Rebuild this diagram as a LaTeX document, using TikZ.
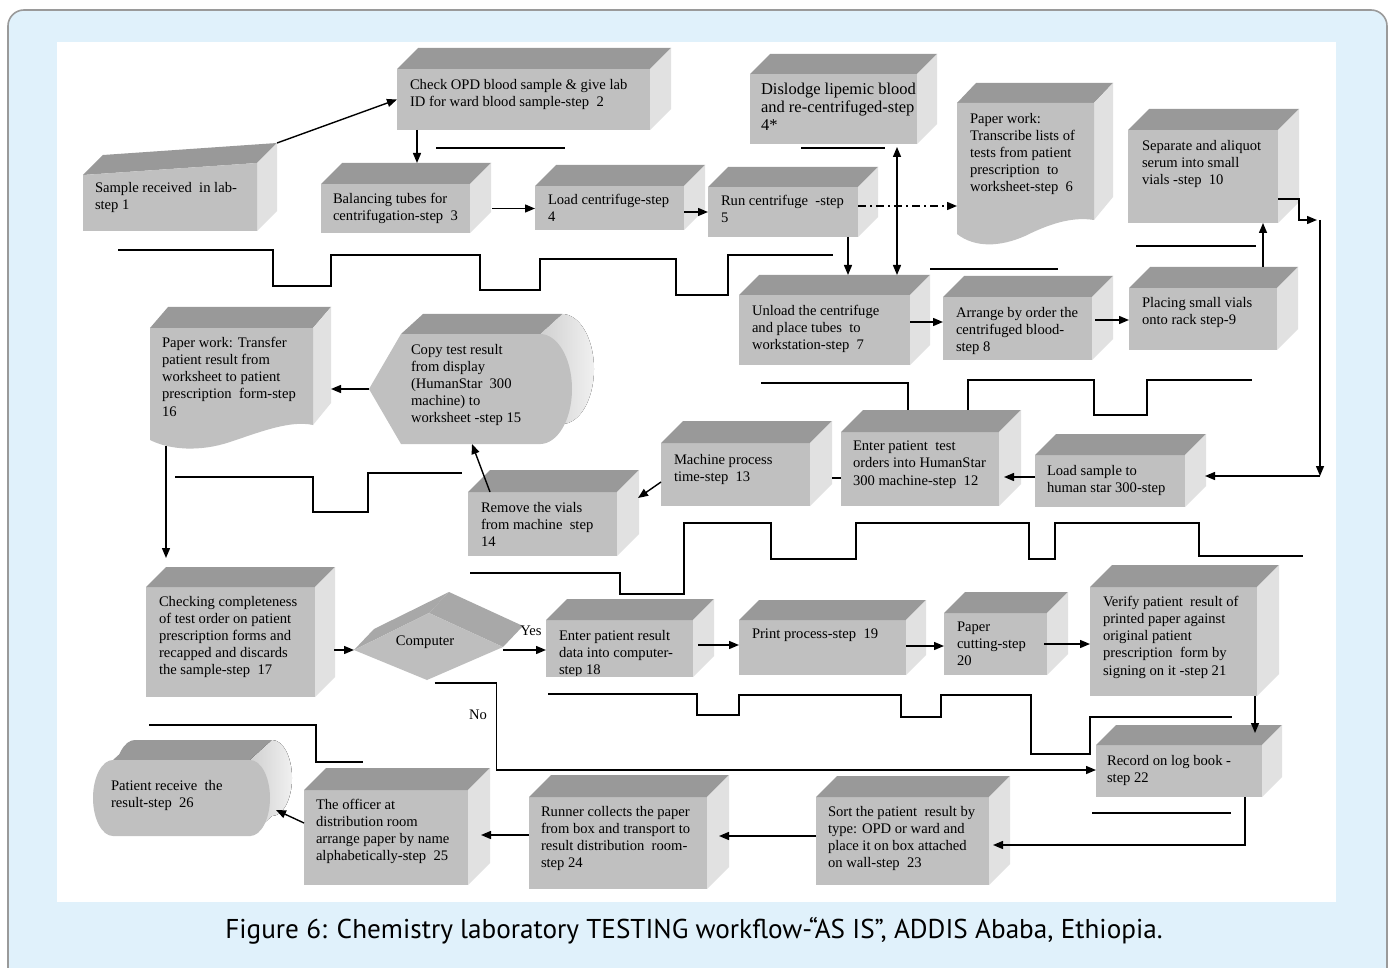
\documentclass[tikz,border=0pt]{standalone}
\usepackage{fontspec}
\setmainfont{Liberation Serif}
\newfontfamily\capfont{PT Sans}
\usetikzlibrary{arrows.meta,calc,fit}
\definecolor{frontc}{HTML}{C0C0C0}
\definecolor{topc}{HTML}{999999}
\definecolor{sidec}{HTML}{E1E1E1}
\definecolor{sidedk}{HTML}{D0D0D0}
\definecolor{sidelt}{HTML}{F0F0F0}
\definecolor{diatop}{HTML}{A8A8A8}
\definecolor{diafront}{HTML}{BEBEBE}
\definecolor{bgblue}{HTML}{E0F1FB}
\definecolor{framec}{HTML}{9A9A9A}
\tikzset{
 faceF/.style={fill=frontc, draw=none, inner sep=0pt, outer sep=0pt},
 anch/.style={inner sep=0pt, outer sep=0pt},
 txt/.style={anchor=north west, inner sep=0pt, outer sep=0pt, align=left, font=\fontsize{7.3pt}{8.6pt}\selectfont},
 bigtxt/.style={anchor=north west, inner sep=0pt, outer sep=0pt, align=left, font=\fontsize{8.25pt}{9pt}\selectfont},
 lbl/.style={inner sep=0pt, font=\fontsize{7.3pt}{8.6pt}\selectfont},
 arr/.style={line width=0.7pt, -{Triangle[length=5pt,width=4pt]}},
 darr/.style={line width=0.7pt, {Triangle[length=5pt,width=4pt]}-{Triangle[length=5pt,width=4pt]}},
 wline/.style={line width=0.7pt},
}
\newcommand\cubebox[6]{%
 \node[faceF, fit={(#2,#3)(#4,#5)}] (#1) {};
 \fill[topc] (#1.north west) -- ++(#6,-#6) -- ($(#1.north east)+(#6,-#6)$) -- (#1.north east) -- cycle;
 \fill[sidec] (#1.north east) -- ++(#6,-#6) -- ($(#1.south east)+(#6,-#6)$) -- (#1.south east) -- cycle;
 \coordinate (#1-t) at ($(#1.north)+(#6,-#6)$);
}
\begin{document}
\begin{tikzpicture}[x=0.5pt,y=-0.5pt]
\clip (0,0) rectangle (1392,968);
\fill[white] (0,0) rectangle (1392,968);
\draw[framec, fill=bgblue, line width=0.8pt, rounded corners=8pt] (8,10) rectangle (1387,1000);
\fill[white] (57,42) rectangle (1336,902);

% ---- timeline lines ----
\draw[wline] (118,250) -- (273,250) -- (273,286) -- (331,286) -- (331,255) -- (480,255) -- (480,290) -- (540,290) -- (540,259) -- (676,259) -- (676,295) -- (728,295) -- (728,255) -- (833,255);
\draw[wline] (436,148) -- (565,148);
\draw[wline] (801,148) -- (885,148);
\draw[wline] (930,269) -- (1058,269);
\draw[wline] (1136,246) -- (1256,246);
\draw[wline] (761,383) -- (908,383) -- (908,417) -- (968,417) -- (968,380) -- (1094,380) -- (1094,415) -- (1147,415) -- (1147,380) -- (1252,380);
\draw[wline] (175,477) -- (313,477) -- (313,512) -- (368,512) -- (368,473) -- (462,473);
\draw[wline] (470,573) -- (620,573) -- (620,594) -- (684,594) -- (684,523) -- (771,523) -- (771,559) -- (856,559) -- (856,523) -- (1029,523) -- (1029,559) -- (1055,559) -- (1055,523) -- (1199,523) -- (1199,556) -- (1303,556);
\draw[wline] (548,694) -- (697,694) -- (697,715) -- (739,715) -- (739,695) -- (901,695) -- (901,717) -- (941,717) -- (941,695) -- (1031,695) -- (1031,754) -- (1090,754) -- (1090,717) -- (1232,717);
\draw[wline] (149,725) -- (316,725) -- (316,762) -- (363,762);
\draw[wline] (1092,813) -- (1231,813);

% ---- step 1 (manual input) ----
\node[anch, fit={(83,163)(257,231)}] (b1) {};
\fill[topc] (83,175) -- (103,155) -- (277,143) -- (257,163) -- cycle;
\fill[sidec] (257,163) -- (277,143) -- (277,211) -- (257,231) -- cycle;
\fill[frontc] (83,175) -- (257,163) -- (257,231) -- (83,231) -- cycle;
\coordinate (b1tr) at ($(b1.north east)+(20,-20)$);
\node[txt] (t1) at (95,182) {Sample received~ in lab-\\step 1};

% ---- cubes ----
\cubebox{b2}{397}{69}{650}{130}{21}
\node[txt] (t2) at (410,79) {Check OPD blood sample \& give lab\\ID for ward blood sample-step~ 2};
\cubebox{b3}{321}{184}{470}{233}{21}
\node[txt] (t3) at (333,193) {Balancing tubes for\\centrifugation-step~ 3};
\cubebox{b4}{535}{186}{684}{230}{21}
\node[txt] (t4) at (548,194) {Load centrifuge-step\\4};
\cubebox{b5}{708}{187}{858}{237}{20}
\node[txt] (t5) at (721,195) {Run centrifuge~ -step\\5};
\cubebox{b4s}{750}{74}{917}{144}{20}
\node[bigtxt] (t4s) at (761,83) {Dislodge lipemic blood\\and re-centrifuged-step\\4*};

% ---- step 6 document ----
\node[anch, fit={(957,103)(1094,233)}] (b6) {};
\fill[topc] (957,103) -- (976,83) -- (1113,83) -- (1094,103) -- cycle;
\fill[sidec] (1094,103) -- (1113,83) -- (1113,197) -- (1094,220) -- cycle;
\fill[frontc] (957,103) -- (1094,103) -- (1094,220) .. controls (1070,216) and (1045,226) .. (1025,236) .. controls (1000,247) and (975,248) .. (957,234) -- cycle;
\node[txt] (t6) at (970,113) {Paper work:\\Transcribe lists of\\tests from patient\\prescription~ to\\worksheet-step~ 6};

\cubebox{b10}{1128}{130}{1278}{223}{21}
\node[txt] (t10) at (1142,140) {Separate and aliquot\\serum into small\\vials -step~ 10};
\cubebox{b7}{739}{295}{910}{365}{20}
\node[txt] (t7) at (752,305) {Unload the centrifuge\\and place tubes~ to\\workstation-step~ 7};
\cubebox{b8}{943}{297}{1092}{360}{21}
\node[txt] (t8) at (956,307) {Arrange by order the\\centrifuged blood-\\step 8};
\cubebox{b9}{1129}{288}{1277}{350}{21}
\node[txt] (t9) at (1142,297) {Placing small vials\\onto rack step-9};

% ---- step 16 document ----
\node[anch, fit={(150,328)(313,446)}] (b16) {};
\fill[topc] (150,328) -- (168,307) -- (331,307) -- (313,328) -- cycle;
\fill[sidec] (313,328) -- (331,307) -- (331,403) -- (313,425) -- cycle;
\fill[frontc] (150,328) -- (313,328) -- (313,425) .. controls (290,420) and (260,432) .. (230,442) .. controls (200,452) and (170,450) .. (150,440) -- cycle;
\node[txt] (t16) at (162,337) {Paper work: Transfer\\patient result from\\worksheet to patient\\prescription~ form-step\\16};

% ---- step 15 display ----
\node[anch, fit={(369,334)(572,444)}] (b15) {};
\fill[left color=sidedk, right color=sidelt] (540,334) -- (562,314) .. controls (579.7,314) and (594,338.6) .. (594,369) .. controls (594,399.4) and (579.7,424) .. (562,424) -- (540,444) -- cycle;
\fill[topc] (401,334) -- (423,314) -- (562,314) -- (540,334) -- cycle;
\fill[frontc] (369,389) -- (401,334) -- (540,334) .. controls (557.7,334) and (572,358.6) .. (572,389) .. controls (572,419.4) and (557.7,444) .. (540,444) -- (401,444) -- cycle;
\node[txt] (t15) at (411,344) {Copy test result\\from display\\(HumanStar~ 300\\machine) to\\worksheet -step 15};

\cubebox{b13}{661}{443}{810}{506}{22}
\node[txt] (t13) at (674,454) {Machine process\\time-step~ 13};
\cubebox{b12}{841}{432}{999}{506}{22}
\node[txt] (t12) at (853,441) {Enter patient~ test\\orders into HumanStar\\300 machine-step~ 12};
\cubebox{b11}{1035}{455}{1185}{507}{21}
\node[txt] (t11) at (1047,465) {Load sample to\\human star 300-step};
\cubebox{b14}{468}{492}{617}{556}{22}
\node[txt] (t14) at (481,502) {Remove the vials\\from machine~ step\\14};
\cubebox{b17}{146}{587}{315}{697}{20}
\node[txt] (t17) at (159,596) {Checking completeness\\of test order on patient\\prescription forms and\\recapped and discards\\the sample-step~ 17};

% ---- decision ----
\node[anch, fit={(354,620)(503,680)}] (comp) {};
\fill[diatop] (354,650) -- (374,629) -- (449,592) -- (429,613) -- cycle;
\fill[diatop] (429,613) -- (449,592) -- (523,626) -- (503,647) -- cycle;
\fill[diafront] (354,650) -- (429,613) -- (503,647) -- (427,680) -- cycle;
\node[lbl] (tcomp) at (425,642) {Computer};
\node[lbl] (yes) at (531,631) {Yes};
\node[lbl] (no) at (478,715) {No};

\cubebox{b18}{546}{620}{693}{677}{21}
\begin{scope}
\clip (546,600) rectangle (693,675);
\node[txt] (t18) at (559,630) {Enter patient result\\data into computer-\\step 18};
\end{scope}
\cubebox{b19}{739}{620}{906}{675}{20}
\node[txt] (t19) at (752,629) {Print process-step~ 19};
\cubebox{b20}{944}{613}{1047}{675}{21}
\node[txt] (t20) at (957,622) {Paper\\cutting-step\\20};
\cubebox{b21}{1090}{587}{1257}{696}{22}
\node[txt] (t21) at (1103,596) {Verify patient~ result of\\printed paper against\\original patient\\prescription~ form by\\signing on it -step 21};
\cubebox{b22}{1096}{745}{1262}{797}{20}
\node[txt] (t22) at (1107,755) {Record on log book -\\step 22};
\cubebox{b23}{816}{797}{989}{885}{21}
\node[txt] (t23) at (828,806) {Sort the patient~ result by\\type: OPD or ward and\\place it on box attached\\on wall-step~ 23};
\cubebox{b24}{529}{797}{707}{889}{22}
\node[txt] (t24) at (541,806) {Runner collects the paper\\from box and transport to\\result distribution~ room-\\step 24};
\cubebox{b25}{304}{790}{468}{885}{22}
\node[txt] (t25) at (316,799) {The officer at\\distribution room\\arrange paper by name\\alphabetically-step~ 25};

% ---- step 26 terminator ----
\node[anch, fit={(93,760)(270,836)}] (b26) {};
\fill[topc] (135,740) -- (272,740) .. controls (283,740) and (292,757) .. (292,778) .. controls (292,799) and (283,816) .. (272,816) -- (135,816) .. controls (124,816) and (115,799) .. (115,778) .. controls (115,757) and (124,740) .. (135,740) -- cycle;
\fill[topc] (93,798) -- (115,778) -- (135,740) -- (113,760) -- cycle;
\fill[left color=sidedk, right color=sidelt] (250,760) -- (272,740) .. controls (283,740) and (292,757) .. (292,778) .. controls (292,799) and (283,816) .. (272,816) -- (250,836) -- cycle;
\fill[frontc] (113,760) -- (250,760) .. controls (261,760) and (270,777) .. (270,798) .. controls (270,819) and (261,836) .. (250,836) -- (113,836) .. controls (102,836) and (93,819) .. (93,798) .. controls (93,777) and (102,760) .. (113,760) -- cycle;
\node[txt] (t26) at (111,780) {Patient receive~ the\\result-step~ 26};

% ---- connectors ----
\draw[arr] (b1tr) -- (b2.west);
\draw[arr] (417,0 |- b2.south) -- (417,0 |- b3-t);
\draw[arr] ($(b3.east)+(22,0)$) -- (b4.west |- b3.east);
\draw[arr] (b4.east |- b5.west) -- (b5.west);
\draw[arr, dash pattern=on 4pt off 2pt on 1pt off 2pt] (b5.east |- 0,206) -- (b6.west |- 0,206);
\draw[arr] (848,0 |- b5.south) -- (848,0 |- b7-t);
\draw[darr] (897,0 |- b7-t) -- ($(897,0 |- b4s.south)+(0,3)$);
\draw[arr] (b7.east |- 0,322) -- (b8.west |- 0,322);
\draw[arr] ($(b8.east |- 0,320)+(3,0)$) -- (b9.west |- 0,320);
\draw[arr] (1263,0 |- b9-t) -- (1263,0 |- b10.south);
\coordinate (k1) at (1320,220);
\coordinate (k2) at (1320,476);
\draw[arr] ($(b10.south east)+(0,-24)$) -| ($(k1)+(-21,0)$) -- ($(k1)+(-3,0)$);
\draw[arr] (k1) -- (k2);
\draw[arr] (k2) -- ($(b11.east |- k2)+(20,0)$);
\draw[arr] (b11.west |- 0,477) -- ($(b12.east |- 0,477)+(5,0)$);
\draw[wline] (b12.west |- 0,478) -- ++(-9,0);
\draw[arr] (b13.west |- 0,482) -- ($(b14.east |- 0,498)+(21,0)$);
\draw[arr] (490,0 |- b14.north) -- (472,0 |- b15.south);
\draw[arr] (b15.west) -- ($(b16.east |- b15.west)+(18,0)$);
\draw[arr] (166,0 |- b16.south) -- ($(166,0 |- b17-t)+(0,-9)$);
\draw[arr] ($(b17.east |- comp.west)+(19,0)$) -- (comp.west);
\draw[arr] (comp.east) -- (b18.west |- comp.east);
\draw[arr] ($(b18.east |- 0,645)+(5,0)$) -- (b19.west |- 0,645);
\draw[arr] (b19.east |- 0,646) -- (b20.west |- 0,646);
\draw[arr] ($(b20.east |- 0,644)+(-3,0)$) -- (b21.west |- 0,644);
\draw[arr] (1255,0 |- b21.south) -- ($(1255,0 |- b22-t)+(0,8)$);
\draw[arr] ($(comp.south)+(6,3)$) -- ++(62,0) |- (b22.west |- 0,770);
\draw[arr] (1245,0 |- b22.south) |- ($(b23.east |- 0,845)+(4,0)$);
\draw[arr] (b23.west |- 0,836) -- ($(b24.east |- 0,836)+(12,0)$);
\draw[arr] (b24.west |- 0,835) -- ($(b25.east |- 0,835)+(13,0)$);
\draw[arr] (b25.west |- 0,823) -- ($(b26.east)+(6,12)$);

% ---- caption ----
\node[inner sep=0pt, font=\capfont\fontsize{13.6pt}{15pt}\selectfont] (cap) at (694,931) {Figure 6: Chemistry laboratory TESTING workflow-“AS IS”, ADDIS Ababa, Ethiopia.};
\end{tikzpicture}
\end{document}
